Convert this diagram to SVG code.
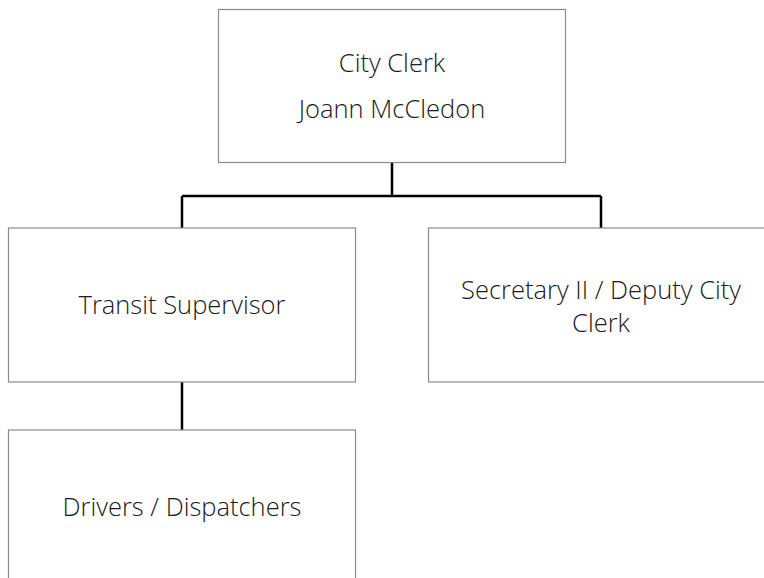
<svg xmlns="http://www.w3.org/2000/svg" width="764" height="578" viewBox="0 0 764 578">
  <style>
    .box { fill: #ffffff; stroke: #8c8c8c; stroke-width: 1.2; }
    .lbl { font-family: "Open Sans", "Liberation Sans", sans-serif; font-weight: 300; font-size: 25.5px; fill: #1a1a1a; text-anchor: middle; }
    .wire { fill: none; stroke: #000000; stroke-width: 2.5; }
  </style>
  <rect width="764" height="578" fill="#ffffff"/>
  <g id="connectors">
    <path class="wire" d="M392,163 V196 M182,196 H601 M182,196 V228 M601,196 V228 M182,382 V430"/>
  </g>
  <g id="city-clerk">
    <rect class="box" x="218.5" y="9.5" width="347" height="153"/>
    <text class="lbl" x="392" y="72">City Clerk</text>
    <text class="lbl" x="392" y="118">Joann McCledon</text>
  </g>
  <g id="transit-supervisor">
    <rect class="box" x="8.5" y="228" width="347" height="154"/>
    <text class="lbl" x="182" y="314">Transit Supervisor</text>
  </g>
  <g id="secretary">
    <rect class="box" x="428.5" y="228" width="347" height="154"/>
    <text class="lbl" x="601" y="299">Secretary II / Deputy City</text>
    <text class="lbl" x="601" y="332">Clerk</text>
  </g>
  <g id="drivers">
    <rect class="box" x="8.5" y="430" width="347" height="160"/>
    <text class="lbl" x="182" y="516">Drivers / Dispatchers</text>
  </g>
</svg>
